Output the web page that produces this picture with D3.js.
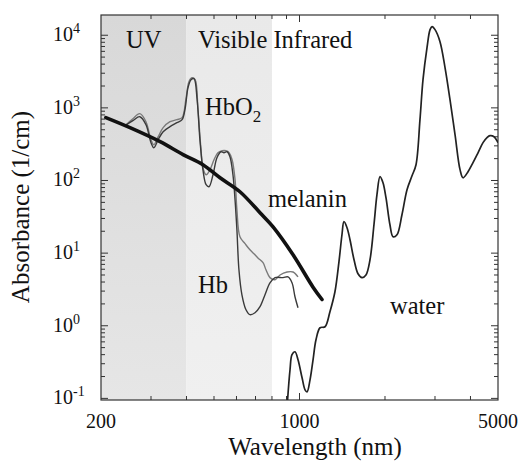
<!DOCTYPE html>
<style>

body {
  margin: 0;
  background: #fff;
}

text {
  font-family: "Liberation Serif", "Times New Roman", serif;
  fill: #111;
}

.curve {
  fill: none;
}

</style>
<body>
<script src="https://d3js.org/d3.v7.min.js"></script>
<script>

// [wavelength nm, absorbance 1/cm]
var melanin = [[208, 733], [253, 533], [323, 342], [389, 227], [457, 165], [525, 109],
    [617, 70], [726, 36], [807, 23], [949, 9.5], [1116, 3.4], [1200, 2.3]];

var hbo2 = [[243, 569], [259, 666], [274, 756], [288, 587], [300, 332], [307, 283],
    [318, 365], [331, 470], [350, 551], [370, 625], [386, 688], [395, 944], [405, 1897],
    [415, 2445], [425, 2525], [436, 1297], [446, 365], [457, 141], [469, 87.5], [480, 82],
    [496, 120], [512, 206], [529, 249], [542, 241], [556, 249], [569, 213], [583, 120],
    [593, 54], [602, 21], [612, 5.9], [627, 2.67], [648, 1.66], [669, 1.42], [697, 1.51],
    [726, 1.83], [756, 2.67], [787, 3.9], [820, 4.6], [875, 4.6], [911, 4.7], [941, 3.9],
    [964, 2.51], [988, 1.77]];

var hb = [[243, 569], [259, 710], [274, 832], [288, 645], [300, 365], [307, 311],
    [318, 401], [331, 534], [350, 645], [370, 688], [386, 733], [398, 1297], [408, 2294],
    [418, 2606], [429, 2445], [439, 944], [450, 266], [457, 150], [469, 120], [484, 141],
    [500, 193], [516, 241], [534, 257], [551, 257], [565, 241], [579, 193], [593, 103],
    [602, 39.6], [617, 16.8], [643, 13.5], [669, 11.1], [697, 9.5], [714, 8.6], [744, 7.4],
    [762, 5.9], [787, 4.6], [820, 4.3], [854, 5.0], [904, 5.5], [949, 5.5], [988, 4.7]];

var water = [[905, 0.08], [926, 0.248], [941, 0.399], [964, 0.438], [988, 0.34], [1021, 0.192],
    [1046, 0.131], [1063, 0.123], [1089, 0.18], [1116, 0.34], [1143, 0.641], [1181, 0.939],
    [1230, 0.969], [1280, 1.56], [1333, 2.94], [1377, 7.6], [1411, 17.9], [1434, 27.1],
    [1470, 22.4], [1506, 15.3], [1556, 8.1], [1607, 5.2], [1660, 4.6], [1714, 5.0],
    [1771, 8.1], [1829, 24.6], [1874, 63.7], [1921, 113], [1968, 93], [2016, 58],
    [2082, 24.6], [2134, 16.8], [2204, 17.9], [2295, 33.8], [2391, 74.7], [2490, 116],
    [2572, 165], [2656, 688], [2722, 2445], [2812, 6745], [2882, 11940], [2929, 13130],
    [3001, 11940], [3124, 8160], [3254, 3580], [3388, 1297], [3529, 428], [3675, 141],
    [3765, 109], [3921, 132], [4083, 176], [4252, 241], [4428, 332], [4574, 389],
    [4686, 414], [4841, 401], [5000, 332]];

var bands = [[200, 400], [400, 800]];
var xTickLabels = [200, 1000, 5000];
var yTickExponents = [4, 3, 2, 1, 0, -1];

var width = 519,
    height = 469;

var x = d3.scaleLog()
    .domain([200, 5000])
    .range([101, 498]);

var y = d3.scaleLog()
    .domain([0.095, 19000])
    .range([400, 15]);

var svg = d3.select("body").append("svg")
    .attr("width", width)
    .attr("height", height);

var defs = svg.append("defs");

defs.append("clipPath")
    .attr("id", "plot")
  .append("rect")
    .attr("x", x.range()[0])
    .attr("y", y.range()[1])
    .attr("width", x.range()[1] - x.range()[0])
    .attr("height", y.range()[0] - y.range()[1]);

var shades = [["#d8d8d8", "#e6e6e6"], ["#e9e9e9", "#f0f0f0"]];
shades.forEach(function(s, i) {
  var g = defs.append("linearGradient")
      .attr("id", "band" + i)
      .attr("x1", 0).attr("y1", 0)
      .attr("x2", 0).attr("y2", 1);
  g.append("stop").attr("offset", "0%").attr("stop-color", s[0]);
  g.append("stop").attr("offset", "100%").attr("stop-color", s[1]);
});

svg.selectAll(".band")
    .data(bands)
  .enter().append("rect")
    .attr("class", "band")
    .attr("x", function(d) { return x(d[0]); })
    .attr("y", y.range()[1])
    .attr("width", function(d) { return x(d[1]) - x(d[0]); })
    .attr("height", y.range()[0] - y.range()[1])
    .attr("fill", function(d, i) { return "url(#band" + i + ")"; });

// frame + inward ticks on all sides
var axisColor = "#333";

svg.append("rect")
    .attr("x", x.range()[0])
    .attr("y", y.range()[1])
    .attr("width", x.range()[1] - x.range()[0])
    .attr("height", y.range()[0] - y.range()[1])
    .attr("fill", "none")
    .attr("stroke", axisColor)
    .attr("stroke-width", 1.2);

function isDecade(v) {
  var l = Math.log10(v);
  return Math.abs(l - Math.round(l)) < 1e-6;
}

var xt = x.ticks().filter(function(d) { return d > 200 && d < 5000; });
var yt = y.ticks().filter(function(d) { return d > 0.095 && d < 19000; });

var ticks = svg.append("g")
    .attr("stroke", axisColor)
    .attr("stroke-width", 1);

xt.forEach(function(d) {
  var len = isDecade(d) ? 7 : 4;
  ticks.append("line")
      .attr("x1", x(d)).attr("x2", x(d))
      .attr("y1", y.range()[0]).attr("y2", y.range()[0] - len);
  ticks.append("line")
      .attr("x1", x(d)).attr("x2", x(d))
      .attr("y1", y.range()[1]).attr("y2", y.range()[1] + len);
});

yt.forEach(function(d) {
  var len = isDecade(d) ? 7 : 4;
  ticks.append("line")
      .attr("y1", y(d)).attr("y2", y(d))
      .attr("x1", x.range()[0]).attr("x2", x.range()[0] + len);
  ticks.append("line")
      .attr("y1", y(d)).attr("y2", y(d))
      .attr("x1", x.range()[1]).attr("x2", x.range()[1] - len);
});

// tick labels
svg.selectAll(".xlab")
    .data(xTickLabels)
  .enter().append("text")
    .attr("class", "xlab")
    .attr("x", function(d) { return x(d); })
    .attr("y", 428)
    .attr("text-anchor", "middle")
    .style("font-size", "20px")
    .text(function(d) { return d; });

var ylab = svg.selectAll(".ylab")
    .data(yTickExponents)
  .enter().append("text")
    .attr("class", "ylab")
    .attr("x", 53)
    .attr("y", function(d) { return y(Math.pow(10, d)) + 6; })
    .style("font-size", "20px");

ylab.append("tspan").text("10");
ylab.append("tspan")
    .attr("dy", -8)
    .style("font-size", "14px")
    .text(function(d) { return d; });

// axis titles
svg.append("text")
    .attr("x", 315)
    .attr("y", 455)
    .attr("text-anchor", "middle")
    .style("font-size", "25px")
    .text("Wavelength (nm)");

svg.append("text")
    .attr("transform", "translate(29,207)rotate(-90)")
    .attr("text-anchor", "middle")
    .style("font-size", "25px")
    .text("Absorbance (1/cm)");

// curves
var line = d3.line()
    .x(function(d) { return x(d[0]); })
    .y(function(d) { return y(d[1]); })
    .curve(d3.curveCatmullRom.alpha(0.5));

var curves = svg.append("g")
    .attr("clip-path", "url(#plot)");

curves.append("path")
    .datum(hb)
    .attr("class", "curve")
    .attr("stroke", "#7a7a7a")
    .attr("stroke-width", 1.4)
    .attr("d", line);

curves.append("path")
    .datum(hbo2)
    .attr("class", "curve")
    .attr("stroke", "#3a3a3a")
    .attr("stroke-width", 1.4)
    .attr("d", line);

curves.append("path")
    .datum(water)
    .attr("class", "curve")
    .attr("stroke", "#222")
    .attr("stroke-width", 1.7)
    .attr("d", line);

curves.append("path")
    .datum(melanin)
    .attr("class", "curve")
    .attr("stroke", "#111")
    .attr("stroke-width", 3.6)
    .attr("stroke-linecap", "round")
    .attr("d", line);

// in-plot labels
function label(txt, lx, ly) {
  return svg.append("text")
      .attr("x", lx)
      .attr("y", ly)
      .style("font-size", "24.5px")
      .text(txt);
}

label("UV", 126, 48);
label("Visible Infrared", 198, 48);
label("melanin", 268, 207);
label("Hb", 198, 293);
label("water", 390, 314);

var hbo2Label = label("HbO", 205, 115);
hbo2Label.append("tspan")
    .attr("dy", 7)
    .style("font-size", "17px")
    .text("2");

</script>
